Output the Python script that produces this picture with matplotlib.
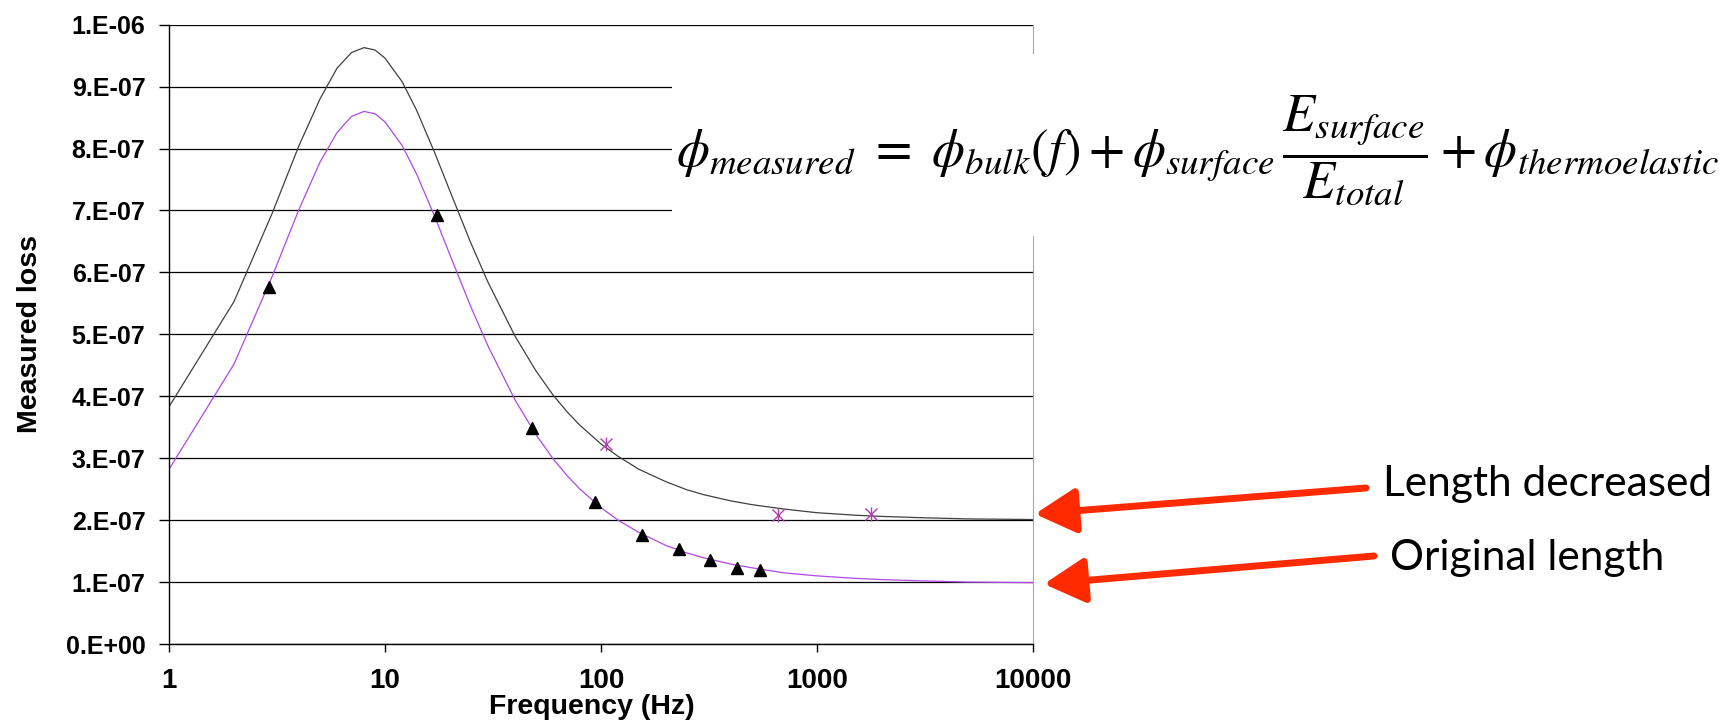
import numpy as np
import matplotlib
matplotlib.use("Agg")
import matplotlib.pyplot as plt
from matplotlib.patches import Rectangle

# fitted curves (loss in units of 1e-7)
freq = [1, 2, 3, 4, 5, 6, 7, 8, 9, 10, 12, 14, 17, 20, 25, 30, 40, 50, 60, 70, 80,
        100, 120, 150, 200, 250, 300, 400, 500, 700, 1000, 1500, 2000, 3000, 5000, 10000]
fit_decreased = [3.83, 5.53, 6.95, 8.05, 8.80, 9.30, 9.55, 9.63, 9.59, 9.46, 9.08, 8.62,
                 7.93, 7.31, 6.47, 5.84, 4.97, 4.41, 4.02, 3.74, 3.53, 3.23, 3.03, 2.82,
                 2.62, 2.49, 2.41, 2.31, 2.25, 2.18, 2.12, 2.08, 2.06, 2.04, 2.02, 2.01]
fit_original = [2.82, 4.52, 5.93, 7.02, 7.78, 8.26, 8.52, 8.60, 8.56, 8.43, 8.05, 7.59,
                6.90, 6.28, 5.44, 4.81, 3.94, 3.38, 2.99, 2.71, 2.50, 2.20, 2.00, 1.80,
                1.59, 1.47, 1.39, 1.29, 1.23, 1.15, 1.10, 1.06, 1.04, 1.02, 1.00, 0.99]

# measured points
orig_f = [2.9, 17.4, 48, 94, 155, 230, 320, 425, 545]
orig_loss = [5.77, 6.93, 3.48, 2.30, 1.76, 1.53, 1.36, 1.22, 1.20]
decr_f = [105, 660, 1780]
decr_loss = [3.23, 2.08, 2.10]

xticks = [1, 10, 100, 1000, 10000]
xtick_labels = ["1", "10", "100", "1000", "10000"]
yticks = [i * 1e-7 for i in range(11)]
ytick_labels = ["0.E+00", "1.E-07", "2.E-07", "3.E-07", "4.E-07", "5.E-07",
                "6.E-07", "7.E-07", "8.E-07", "9.E-07", "1.E-06"]

plt.rcParams["font.family"] = ["Liberation Sans", "DejaVu Sans"]
plt.rcParams["mathtext.fontset"] = "stix"

W, H = 1731, 727
fig = plt.figure(figsize=(W / 100, H / 100), dpi=100)
ax = fig.add_axes([169 / W, (H - 644) / H, (1033 - 169) / W, (644 - 24.7) / H])

scale = 1e-7
ax.plot(freq, np.array(fit_decreased) * scale, color="#404040", lw=0.9)
ax.plot(freq, np.array(fit_original) * scale, color="#B048E8", lw=0.9)
ax.plot(orig_f, np.array(orig_loss) * scale, "^", color="black", ms=9, ls="none")
ax.plot(decr_f, np.array(decr_loss) * scale, "x", color="#B040B0", ms=8, mew=1, ls="none")
ax.plot(decr_f, np.array(decr_loss) * scale, "|", color="#B040B0", ms=10, mew=1, ls="none")

ax.set_xscale("log")
ax.set_xlim(1, 10000)
ax.set_ylim(0, 1e-6)
ax.set_xticks(xticks)
ax.set_xticklabels(xtick_labels)
ax.minorticks_off()
ax.set_yticks(yticks)
ax.set_yticklabels(ytick_labels)
ax.tick_params(axis="both", direction="out", color="black", width=1)
ax.tick_params(axis="y", length=7, pad=10, labelsize=18)
ax.tick_params(axis="x", length=6, pad=11, labelsize=20)
for lab in ax.get_xticklabels() + ax.get_yticklabels():
    lab.set_fontweight("bold")

ax.yaxis.grid(True, color="black", lw=0.9)
ax.spines["top"].set_visible(False)
ax.spines["right"].set_color("#A8A8A8")
ax.spines["left"].set_linewidth(1)
ax.spines["bottom"].set_linewidth(1)

fig.text(30 / W, 1 - 334 / H, "Measured loss", rotation=90, ha="center", va="center",
         fontsize=20.5, fontweight="bold")
fig.text(592 / W, 13 / H, "Frequency (Hz)", ha="center", va="baseline",
         fontsize=20.5, fontweight="bold")

# white box behind the equation
fig.add_artist(Rectangle((672 / W, 1 - 236 / H), 1 - 672 / W, (236 - 54) / H,
                         transform=fig.transFigure, facecolor="white", edgecolor="none",
                         zorder=5))
eq = (r"$\phi_{measured}\ =\ \phi_{bulk}\left(f\right)+\phi_{surface}\,"
      r"\dfrac{E_{surface}}{E_{total}}+\phi_{thermoelastic}$")
fig.text(676 / W, 1 - 150 / H, eq, ha="left", va="center", fontsize=38, zorder=6)

# labels with red arrows
fig.text(1383 / W, 1 - 496 / H, "Length decreased", family="Lato", fontsize=30.5,
         ha="left", va="baseline")
fig.text(1390 / W, 1 - 570 / H, "Original length", family="Lato", fontsize=30.5,
         ha="left", va="baseline")
arrow = dict(arrowstyle="-|>,head_length=1.0,head_width=0.55", color="#FF2A00",
             lw=5, mutation_scale=25, shrinkA=0, shrinkB=0)
ax.annotate("", xy=(1035, H - 514), xytext=(1366, H - 488), xycoords="figure pixels",
            textcoords="figure pixels", arrowprops=arrow, annotation_clip=False)
ax.annotate("", xy=(1044, H - 584), xytext=(1374, H - 556), xycoords="figure pixels",
            textcoords="figure pixels", arrowprops=arrow, annotation_clip=False)

fig.savefig("out.png", dpi=100)
